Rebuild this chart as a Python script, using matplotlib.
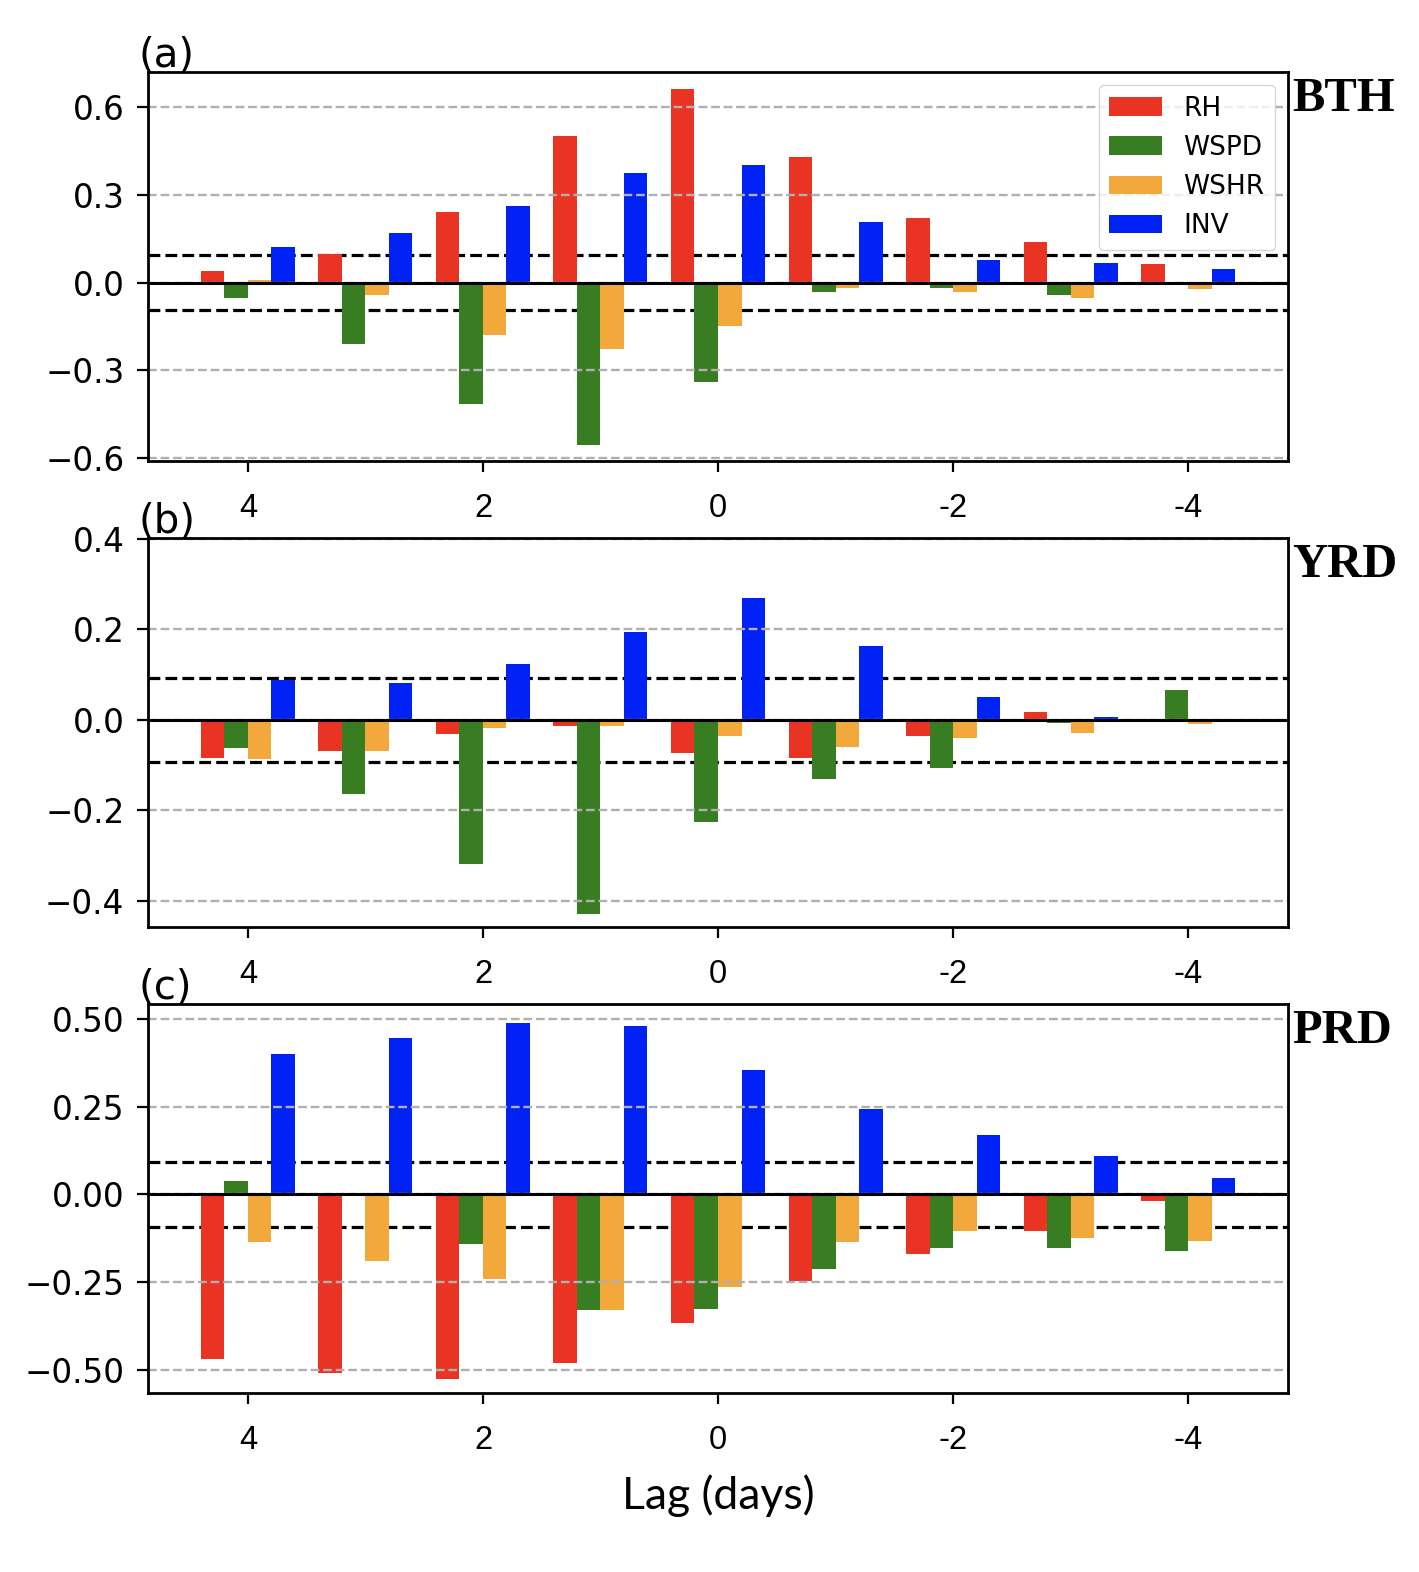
import numpy as np
import matplotlib
matplotlib.use("Agg")
import matplotlib.pyplot as plt

# lag in days (left = +4, right = -4)
lags = np.array([4, 3, 2, 1, 0, -1, -2, -3, -4])
variables = ["RH", "WSPD", "WSHR", "INV"]
colors = ["#e93323", "#387d22", "#f3a83b", "#0022f5"]

# BTH
bth_rh = [0.038, 0.097, 0.241, 0.502, 0.662, 0.431, 0.220, 0.140, 0.064]
bth_wspd = [-0.054, -0.211, -0.414, -0.557, -0.341, -0.033, -0.017, -0.042, 0.0]
bth_wshr = [0.008, -0.041, -0.178, -0.227, -0.148, -0.017, -0.033, -0.052, -0.022]
bth_inv = [0.123, 0.170, 0.261, 0.376, 0.401, 0.207, 0.077, 0.068, 0.047]

# YRD
yrd_rh = [-0.084, -0.070, -0.032, -0.013, -0.073, -0.084, -0.035, 0.017, 0.0]
yrd_wspd = [-0.062, -0.163, -0.318, -0.430, -0.225, -0.131, -0.106, -0.007, 0.065]
yrd_wshr = [-0.087, -0.070, -0.018, -0.013, -0.035, -0.060, -0.041, -0.029, -0.010]
yrd_inv = [0.087, 0.082, 0.123, 0.194, 0.270, 0.164, 0.051, 0.006, 0.0]

# PRD
prd_rh = [-0.470, -0.510, -0.527, -0.480, -0.367, -0.246, -0.171, -0.105, -0.020]
prd_wspd = [0.038, 0.0, -0.140, -0.329, -0.326, -0.212, -0.153, -0.153, -0.161]
prd_wshr = [-0.136, -0.190, -0.241, -0.329, -0.265, -0.136, -0.104, -0.125, -0.132]
prd_inv = [0.400, 0.446, 0.489, 0.481, 0.354, 0.243, 0.169, 0.109, 0.046]

sig_level = 0.093

panels = [
    ("(a)", "BTH", [bth_rh, bth_wspd, bth_wshr, bth_inv], (-0.61, 0.72), [-0.6, -0.3, 0.0, 0.3, 0.6], "%.1f"),
    ("(b)", "YRD", [yrd_rh, yrd_wspd, yrd_wshr, yrd_inv], (-0.458, 0.402), [-0.4, -0.2, 0.0, 0.2, 0.4], "%.1f"),
    ("(c)", "PRD", [prd_rh, prd_wspd, prd_wshr, prd_inv], (-0.566, 0.543), [-0.5, -0.25, 0.0, 0.25, 0.5], "%.2f"),
]

W, H = 1419, 1572
fig = plt.figure(figsize=(W / 100, H / 100), dpi=100)

tops = [72, 538, 1004]
ax_left, ax_right, ax_h = 148, 1288, 389
width = 0.2
offsets = [0.3, 0.1, -0.1, -0.3]

for (tag, region, series, ylim, yticks, fmt), top in zip(panels, tops):
    ax = fig.add_axes([ax_left / W, 1 - (top + ax_h) / H, (ax_right - ax_left) / W, ax_h / H])
    for vals, name, c, off in zip(series, variables, colors, offsets):
        ax.bar(lags + off, vals, width, color=c, label=name, zorder=1)
    ax.axhline(sig_level, color="k", ls="--", lw=2.3, zorder=0.5)
    ax.axhline(-sig_level, color="k", ls="--", lw=2.3, zorder=0.5)
    ax.axhline(0, color="k", lw=2.2, zorder=3)
    ax.grid(axis="y", color="#b0b0b0", ls="--", lw=1.7)
    ax.set_axisbelow("line")

    ax.set_xlim(4.85, -4.85)
    ax.set_ylim(*ylim)
    ax.set_yticks(yticks)
    ax.set_yticklabels([(fmt % v).replace("-", "\u2212") for v in yticks], fontsize=23.5)
    ax.set_xticks([4, 2, 0, -2, -4])
    ax.set_xticklabels(["4", "2", "0", "-2", "-4"], fontsize=23.5, family="Liberation Sans")
    ax.tick_params(axis="y", length=8, width=1.6, pad=9)
    ax.tick_params(axis="x", length=8, width=1.6, pad=15)
    for sp in ax.spines.values():
        sp.set_linewidth(2.0)

    ax.text(-0.008, 1.013, tag, transform=ax.transAxes, fontsize=29, ha="left", va="baseline")
    ax.text(1.004, 0.90, region, transform=ax.transAxes, fontsize=35,
            family="Liberation Serif", fontweight="bold", ha="left", va="baseline")

    if tag == "(a)":
        ax.legend(loc="upper right", fontsize=19)
    if tag == "(c)":
        ax.set_xlabel("Lag (days)", fontsize=32, family="Lato", labelpad=13)

fig.savefig("out.png", dpi=100)
